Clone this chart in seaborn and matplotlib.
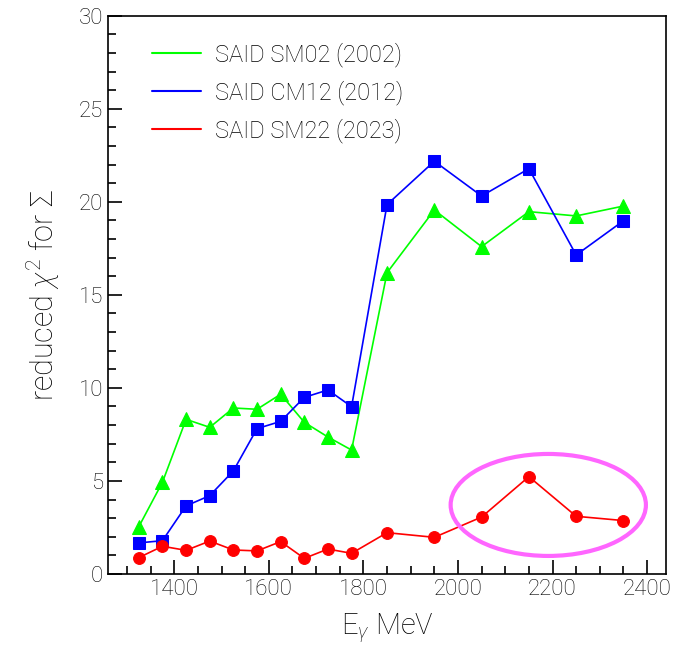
import numpy as np
import pandas as pd
import matplotlib
matplotlib.use("Agg")
import matplotlib.pyplot as plt
import seaborn as sns
from matplotlib.lines import Line2D
from matplotlib.patches import Ellipse

# ==================================================
# Dados
# ==================================================
energia = [1325, 1375, 1425, 1475, 1525, 1575, 1625, 1675, 1725, 1775,
           1850, 1950, 2050, 2150, 2250, 2350]

sm02 = [2.54, 4.93, 8.31, 7.88, 8.92, 8.85, 9.66, 8.15, 7.36, 6.66,
        16.19, 19.56, 17.59, 19.47, 19.24, 19.77]
cm12 = [1.67, 1.79, 3.66, 4.21, 5.54, 7.81, 8.20, 9.49, 9.89, 8.99,
        19.85, 22.18, 20.31, 21.78, 17.14, 18.98]
sm22 = [0.88, 1.49, 1.27, 1.77, 1.29, 1.24, 1.74, 0.84, 1.34, 1.11,
        2.22, 1.97, 3.06, 5.23, 3.10, 2.87]

rotulos = ["SAID SM02 (2002)", "SAID CM12 (2012)", "SAID SM22 (2023)"]
cores = ["#00ff00", "#0000ff", "#ff0000"]
marcadores = ["^", "s", "o"]

df = pd.DataFrame({
    "E": energia * 3,
    "chi2": sm02 + cm12 + sm22,
    "modelo": [r for r in rotulos for _ in energia],
})

# ==================================================
# Configuração visual
# ==================================================
sns.set_theme(style="ticks")
plt.rcParams["font.family"] = ["Roboto", "DejaVu Sans"]
plt.rcParams["font.weight"] = "light"
plt.rcParams["axes.labelweight"] = "light"
plt.rcParams["mathtext.fontset"] = "custom"
plt.rcParams["mathtext.rm"] = "Roboto:light"
plt.rcParams["mathtext.it"] = "Roboto:italic:light"
texto = "black"

fig = plt.figure(figsize=(6.84, 6.51), dpi=100)
ax = fig.add_axes([0.158, 0.1183, 0.8157, 0.8576])

for rot, cor, mk in zip(rotulos, cores, marcadores):
    ms = 10 if mk == "^" else 8.5
    sns.lineplot(
        data=df[df["modelo"] == rot], x="E", y="chi2",
        color=cor, marker=mk, markersize=ms, markeredgecolor=cor,
        linewidth=1.2, legend=False, ax=ax,
    )

# destaque (elipse)
ax.add_patch(Ellipse((2191, 3.71), 413, 5.48, fill=False,
                     edgecolor="#ff66ff", linewidth=3, zorder=5))

ax.set_xlim(1260, 2440)
ax.set_ylim(0, 30)
ax.set_xticks(np.arange(1400, 2401, 200))
ax.set_xticks(np.arange(1300, 2441, 50), minor=True)
ax.set_yticks(np.arange(0, 31, 5))
ax.set_yticks(np.arange(0, 31, 1), minor=True)
ax.tick_params(which="both", direction="in", colors="black",
               labelcolor=texto, labelsize=16, width=1.2)
ax.tick_params(which="major", length=10)
ax.tick_params(which="minor", length=6)
for lado in ["left", "bottom", "top", "right"]:
    ax.spines[lado].set_linewidth(1.2)
    ax.spines[lado].set_color("black")

ax.set_xlabel(r"E$_\gamma$ MeV", fontsize=21, color=texto, labelpad=8,
              fontweight="light")
ax.set_ylabel(r"reduced $\chi^2$ for $\Sigma$", fontsize=22, color=texto,
              labelpad=12, fontweight="light")

handles = [Line2D([], [], color=c, linewidth=1.5) for c in cores]
leg = ax.legend(handles, rotulos, loc="upper left", frameon=False,
                fontsize=17, handlelength=2.1, handletextpad=0.6,
                labelspacing=0.55, bbox_to_anchor=(0.04, 0.99))
for t in leg.get_texts():
    t.set_color(texto)

fig.savefig("out.png", dpi=100)
